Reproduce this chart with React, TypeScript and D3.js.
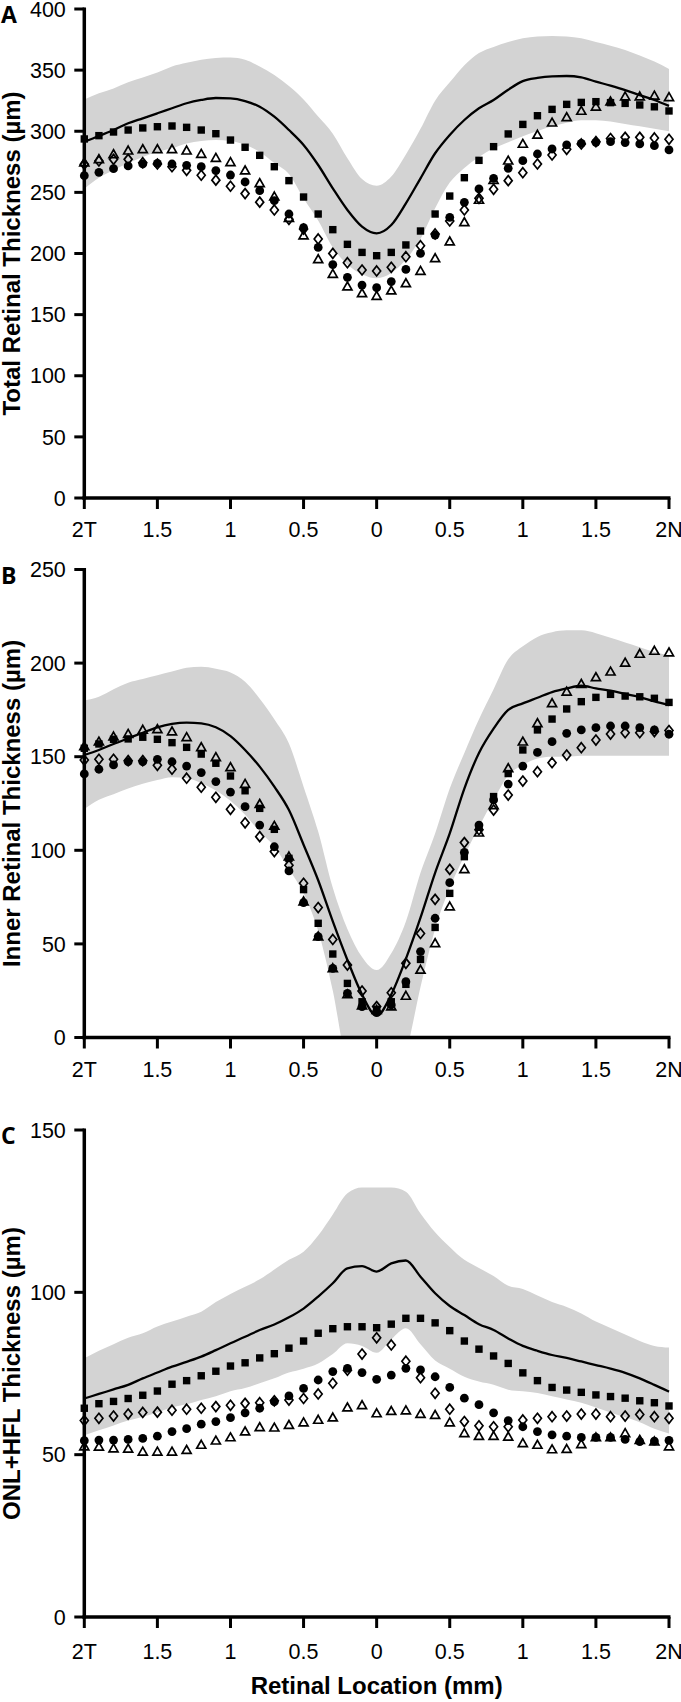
import React from 'react';
import * as d3 from 'd3';

// ---------- shared axis data ----------
const LOCATIONS = [
  -2.0, -1.9, -1.8, -1.7, -1.6, -1.5, -1.4, -1.3, -1.2, -1.1,
  -1.0, -0.9, -0.8, -0.7, -0.6, -0.5, -0.4, -0.3, -0.2, -0.1,
  0.0, 0.1, 0.2, 0.3, 0.4, 0.5, 0.6, 0.7, 0.8, 0.9,
  1.0, 1.1, 1.2, 1.3, 1.4, 1.5, 1.6, 1.7, 1.8, 1.9, 2.0,
];
const X_TICKS = [-2, -1.5, -1, -0.5, 0, 0.5, 1, 1.5, 2];
const X_TICK_LABELS = ['2T', '1.5', '1', '0.5', '0', '0.5', '1', '1.5', '2N'];
const X_TITLE = 'Retinal Location (mm)';

// ---------- Panel A: total retinal thickness ----------
const A_Y_TICKS = [0, 50, 100, 150, 200, 250, 300, 350, 400];
const A_MEAN = [291.5, 296.1, 301, 306.5, 310.6, 314.7, 318.8, 322.9, 325.6, 327.2, 326.9, 324.7, 320.1, 311.9, 301, 288.8, 272.4, 253.3, 235.6, 222, 216.5, 223.3, 241, 261.5, 282, 297, 309.2, 318.8, 325.6, 334, 341, 343.6, 344.9, 345.2, 344.1, 340.6, 337.3, 333.7, 329.6, 325.6, 320.7];
const A_UPPER = [326, 331, 335, 340, 344, 348, 353, 356, 358.5, 360, 360.4, 358.5, 353, 346, 337, 326, 312, 298, 278, 261, 255.5, 263, 281, 302, 325, 340, 354, 364, 369, 373, 376, 377.5, 378, 377.5, 376, 373, 370, 366.5, 362, 357, 351];
const A_LOWER = [253, 262, 268, 274, 279, 283, 286, 290, 292, 292.8, 292, 289, 283, 274, 265, 245, 227, 205, 191, 183, 179.7, 184, 195, 212, 237, 258, 270, 279, 286, 291, 296, 300, 304, 307, 309, 309, 308, 306, 304, 302, 300];
const A_SQUARES = [293.7, 296.4, 299.4, 301, 302.7, 303.7, 304.3, 303.2, 301, 298, 292.8, 286.9, 280.3, 271, 259.6, 246.2, 232.3, 219.5, 207.5, 200.9, 198.2, 200.9, 207, 218.4, 232.3, 247, 262, 276.2, 287.4, 297.8, 305.6, 312.7, 317.9, 322, 323.6, 324.2, 323.4, 322.8, 321.5, 320, 316.6];
const A_CIRCLES = [263.7, 266.4, 269.4, 271.6, 273.2, 273.8, 273.2, 272.1, 271, 267.8, 264.2, 258.5, 251.4, 243.2, 232.3, 221.1, 205, 190.9, 180.5, 174.2, 172, 177, 187, 200.1, 215.1, 229.6, 241.9, 252.8, 261.5, 269.7, 275.9, 281.4, 285.5, 288.8, 290.1, 290.9, 291.5, 290.7, 289.6, 288.2, 284.7];
const A_TRIANGLES = [274.3, 277, 281.1, 284.1, 285.2, 285.2, 285.2, 284.1, 281.4, 278.1, 274.6, 267.8, 257.4, 246.5, 229, 214.6, 195.2, 183.2, 172.9, 167.4, 165.2, 169.6, 175.6, 185.7, 196, 209.7, 225.5, 243.8, 260, 275.9, 289.6, 297, 307, 311.4, 316.6, 320, 324.2, 328.3, 328.3, 329, 327.8];
const A_DIAMONDS = [273, 275.7, 277, 277, 274.3, 273.2, 271, 268, 264, 260, 255, 249, 242, 235.6, 228, 220, 211.9, 200.1, 192.5, 186.5, 185.7, 188.7, 197.4, 206.4, 216, 226.6, 235.6, 245.1, 252.5, 259.6, 266.1, 273.2, 280.6, 285.2, 289.6, 291.5, 294, 295, 295, 294.5, 293.4];

// ---------- Panel B: inner retinal thickness ----------
const B_Y_TICKS = [0, 50, 100, 150, 200, 250];
const B_MEAN = [150.9, 153.6, 156.8, 159.8, 162.8, 165.7, 167.5, 168.2, 167.8, 165.7, 161, 153.6, 144.7, 134, 121.5, 103, 84, 62, 41.4, 23, 11.5, 23, 42, 64, 88, 109, 133, 152, 165, 175, 178.5, 181.5, 184.5, 186.5, 187.9, 186.5, 185.3, 183.5, 181.8, 179.5, 177.6];
const B_UPPER = [180, 182, 186, 189.5, 191.5, 193.5, 195.5, 197.5, 198, 197, 195, 190, 181, 170, 157, 134, 110, 80, 58, 43, 36, 45, 62, 88, 109, 133, 152, 170, 186, 202, 209, 214, 216.5, 217.5, 217.5, 216, 213.5, 211, 208.5, 206, 204];
const B_LOWER = [122, 127, 130, 133, 135.5, 137.5, 139, 138.5, 136, 132, 126.5, 119, 110, 102, 90, 77, 57, 25, -15, -25, -28, -22, -8, 27, 58, 80, 97, 112.6, 127, 140, 145.5, 149, 150, 150, 150.5, 150.5, 150.5, 150.5, 150.5, 150.5, 150.5];
const B_SQUARES = [154.5, 156.8, 159.3, 159.5, 160.4, 159.3, 157.5, 155, 151.4, 146.5, 139.7, 131.8, 122.4, 111.2, 95.7, 79, 61, 44.6, 28.9, 19.1, 15, 19.1, 28.4, 41.7, 58.8, 77, 96.6, 112.3, 128.7, 141, 153.6, 164.3, 170.1, 175.5, 179.4, 181.7, 183.3, 182.4, 182, 181.2, 179];
const B_CIRCLES = [140.8, 143.3, 145.6, 147.3, 147.3, 148.6, 147.3, 145, 141.5, 136.7, 131.1, 123.3, 113.5, 101.9, 89, 72, 53.9, 36.9, 23.6, 16.5, 13.8, 17.4, 29.8, 45.9, 63.7, 82.7, 98.9, 113.5, 126.9, 135.4, 145, 152.3, 158, 162.5, 164.3, 165.5, 166.4, 166.4, 165.5, 164.3, 162];
const B_TRIANGLES = [155.5, 158, 160.7, 162.1, 164.3, 164.6, 163.4, 160.4, 155, 149.7, 144.3, 135.4, 124.7, 113, 96.6, 72.6, 53.9, 36.9, 23, 17, 14.6, 16.5, 22.2, 36.1, 50.3, 69.9, 89.8, 109.4, 124, 143.8, 158, 167.8, 178.5, 184.7, 188.8, 192.4, 195.4, 200.2, 204.9, 206.5, 205.6];
const B_DIAMONDS = [148.2, 148.6, 148.6, 147.9, 147.9, 145.4, 143.3, 138.5, 133.7, 128.3, 121.9, 114.7, 107.3, 99.3, 92, 82.4, 69.4, 52.4, 38.7, 24.8, 16.5, 23.9, 39.6, 55.6, 73.8, 89.8, 104.1, 111, 121.5, 129.5, 137, 142, 146.8, 150.9, 154.8, 158.9, 162.1, 162.8, 162.8, 163.4, 164];

// ---------- Panel C: ONL+HFL thickness ----------
const C_Y_TICKS = [0, 50, 100, 150];
const C_MEAN = [67.3, 68.7, 70.1, 71.5, 73.5, 75.3, 77.1, 78.6, 80.2, 82.2, 84.3, 86.3, 88.4, 90.1, 92.3, 95, 98.7, 102.8, 107.4, 108.1, 106.4, 108.9, 109.8, 104.8, 99.7, 95.8, 93, 90.2, 88.4, 85.8, 83.5, 82, 80.7, 79.8, 78.7, 77.6, 76.5, 75.2, 73.5, 71.5, 69.4];
const C_UPPER = [79.7, 82, 84, 86, 87.4, 89.5, 91, 92.5, 94, 97, 99.5, 101.7, 104, 107, 110, 112.5, 117.5, 124, 130.5, 132.3, 132.3, 132.3, 131, 124.3, 118.5, 114, 110, 107.5, 105, 102, 101, 99, 97, 95.5, 93.5, 91, 89, 87, 85, 83.5, 83];
const C_LOWER = [56, 57.5, 59, 60.5, 61.7, 63, 64.5, 65.5, 66.8, 68, 69.5, 70.5, 72, 73.5, 75.3, 76.5, 78.1, 81, 84.3, 83.5, 81.4, 85.5, 88.9, 84, 79, 76.5, 74, 72.5, 71.5, 70, 69.5, 69, 68, 67, 66, 64.5, 63, 61.5, 60, 58, 56.5];
const C_SQUARES = [64.3, 65.7, 66.4, 67.3, 68.3, 69.6, 71.7, 72.8, 74.3, 75.7, 77.3, 78.3, 79.8, 81.1, 82.8, 85, 87.4, 88.8, 89.4, 89.4, 89.1, 90.2, 92, 92, 90.6, 88.2, 85, 82.5, 80.4, 78.1, 75.2, 72.8, 70.7, 69.9, 69.2, 68.4, 67.9, 67.4, 66.6, 66, 65];
const C_CIRCLES = [54.3, 54.5, 54.5, 54.7, 55, 55.7, 57.1, 58, 59.4, 60.2, 61.4, 62.9, 64.3, 66.3, 68.1, 70.4, 73, 75.6, 76.6, 75.3, 73.2, 74.5, 76.6, 76.1, 74, 70.7, 67.4, 65.4, 62.9, 60.5, 58.6, 57.1, 56.1, 55.7, 55.3, 55.3, 55.3, 54.7, 54, 54.2, 54.4];
const C_TRIANGLES = [52.5, 52.4, 51.9, 51.8, 50.9, 50.9, 50.9, 51.4, 53, 54.3, 55.3, 57.1, 58.4, 58.3, 59.1, 59.9, 60.7, 61.4, 64.5, 65.2, 62.7, 63.4, 63.6, 62.5, 62.2, 59.9, 56.6, 55.7, 55.7, 55.5, 53.5, 53, 51.6, 51.7, 53.2, 55.3, 55.3, 56.6, 54.5, 54, 52.5];
const C_DIAMONDS = [60.5, 61.2, 61.9, 62.5, 63, 63.1, 63.7, 64, 64.3, 64.8, 65.2, 65.8, 66, 66.6, 66.8, 67.3, 68.7, 72, 76, 81, 86, 83.8, 78.8, 73.7, 68.9, 64, 60.2, 58.9, 58.6, 58.6, 60.7, 61.2, 61.7, 61.9, 62.5, 62.5, 61.7, 61.9, 62.4, 61.7, 61.2];

// ---------- layout ----------
const W = 681;
const H = 1702;
const X_LEFT = 84.3;
const X_RIGHT = 669;
const BAND = '#d3d3d3';
const TICK_FONT = '"Liberation Sans", Arial, Helvetica, sans-serif';
const TITLE_FONT = '"Liberation Sans", Arial, Helvetica, sans-serif';
const LETTER_FONT = '"Open Sans", "Noto Sans", sans-serif';

const PANELS = [
  { id: 'A', title: 'Total Retinal Thickness (µm)', yMax: 400, yTicks: A_Y_TICKS, top: 9, bottom: 498, labelDy: 39,
    mean: A_MEAN, upper: A_UPPER, lower: A_LOWER, squares: A_SQUARES, circles: A_CIRCLES, triangles: A_TRIANGLES, diamonds: A_DIAMONDS },
  { id: 'B', title: 'Inner Retinal Thickness (µm)', yMax: 250, yTicks: B_Y_TICKS, top: 569.5, bottom: 1037.5, labelDy: 39,
    mean: B_MEAN, upper: B_UPPER, lower: B_LOWER, squares: B_SQUARES, circles: B_CIRCLES, triangles: B_TRIANGLES, diamonds: B_DIAMONDS },
  { id: 'C', title: 'ONL+HFL Thickness (µm)', yMax: 150, yTicks: C_Y_TICKS, top: 1130, bottom: 1617, labelDy: 42,
    mean: C_MEAN, upper: C_UPPER, lower: C_LOWER, squares: C_SQUARES, circles: C_CIRCLES, triangles: C_TRIANGLES, diamonds: C_DIAMONDS },
];

const SQ = 3.7;
const TRI_PATH = 'M0,-4.6L4.5,3.3L-4.5,3.3Z';
const DIA_PATH = 'M0,-5L4,0L0,5L-4,0Z';

function Panel({ p }: { p: any }) {
  const x = d3.scaleLinear().domain([-2, 2]).range([X_LEFT, X_RIGHT]);
  const y = d3.scaleLinear().domain([0, p.yMax]).range([p.bottom, p.top]);
  const area = d3.area<number>()
    .x((_, i) => x(LOCATIONS[i]))
    .y0((_, i) => y(p.lower[i]))
    .y1((_, i) => y(p.upper[i]))
    .curve(d3.curveMonotoneX);
  const line = d3.line<number>()
    .x((_, i) => x(LOCATIONS[i]))
    .y((d) => y(d))
    .curve(d3.curveMonotoneX);
  const clipId = `clip-${p.id}`;
  const midY = (p.top + p.bottom) / 2;
  return (
    <g>
      <defs>
        <clipPath id={clipId}>
          <rect x={X_LEFT} y={p.top - 5} width={X_RIGHT - X_LEFT} height={p.bottom - p.top + 5} />
        </clipPath>
      </defs>
      <path d={area(p.upper) || ''} fill={BAND} stroke="none" clipPath={`url(#${clipId})`} />
      <path d={line(p.mean) || ''} fill="none" stroke="#000" strokeWidth={2.3} />
      {p.squares.map((v: number, i: number) => (
        <rect key={`s${i}`} x={x(LOCATIONS[i]) - SQ} y={y(v) - SQ} width={SQ * 2} height={SQ * 2} fill="#000" />
      ))}
      {p.circles.map((v: number, i: number) => (
        <circle key={`c${i}`} cx={x(LOCATIONS[i])} cy={y(v)} r={4.4} fill="#000" />
      ))}
      {p.diamonds.map((v: number, i: number) => (
        <path key={`d${i}`} d={DIA_PATH} transform={`translate(${x(LOCATIONS[i])},${y(v)})`} fill="none" stroke="#000" strokeWidth={1.7} />
      ))}
      {p.triangles.map((v: number, i: number) => (
        <path key={`t${i}`} d={TRI_PATH} transform={`translate(${x(LOCATIONS[i])},${y(v)})`} fill="none" stroke="#000" strokeWidth={1.7} strokeLinejoin="miter" />
      ))}
      {/* y axis */}
      <line x1={X_LEFT} x2={X_LEFT} y1={p.top - 1.5} y2={p.bottom + 1.75} stroke="#000" strokeWidth={3.5} />
      {p.yTicks.map((t: number) => (
        <g key={`yt${t}`}>
          <line x1={X_LEFT - 10} x2={X_LEFT} y1={y(t)} y2={y(t)} stroke="#000" strokeWidth={3} />
          <text x={X_LEFT - 18.5} y={y(t)} dy="0.36em" textAnchor="end" fontFamily={TICK_FONT} fontSize={21.5} fill="#000">{t}</text>
        </g>
      ))}
      {/* x axis */}
      <line x1={X_LEFT - 1.75} x2={X_RIGHT + 1.5} y1={p.bottom} y2={p.bottom} stroke="#000" strokeWidth={3.5} />
      {X_TICKS.map((t, i) => (
        <g key={`xt${i}`}>
          <line x1={x(t)} x2={x(t)} y1={p.bottom} y2={p.bottom + 11} stroke="#000" strokeWidth={3} />
          <text x={x(t)} y={p.bottom + p.labelDy} textAnchor="middle" fontFamily={TICK_FONT} fontSize={21.5} fill="#000">{X_TICK_LABELS[i]}</text>
        </g>
      ))}
      <text transform={`translate(20,${midY}) rotate(-90)`} textAnchor="middle" fontFamily={TITLE_FONT} fontWeight="bold" fontSize={24} fill="#000">{p.title}</text>
      <text x={1} y={p.top + 14} fontFamily={LETTER_FONT} fontWeight="bold" fontSize={23} fill="#000">{p.id}</text>
    </g>
  );
}

export default function App() {
  const x = d3.scaleLinear().domain([-2, 2]).range([X_LEFT, X_RIGHT]);
  return (
    <svg width={W} height={H} viewBox={`0 0 ${W} ${H}`} style={{ position: 'absolute', left: 0, top: 0, background: '#fff' }}>
      <rect x={0} y={0} width={W} height={H} fill="#fff" />
      {PANELS.map((p) => <Panel key={p.id} p={p} />)}
      <text x={x(0)} y={1694} textAnchor="middle" fontFamily={TITLE_FONT} fontWeight="bold" fontSize={24} fill="#000">{X_TITLE}</text>
    </svg>
  );
}
